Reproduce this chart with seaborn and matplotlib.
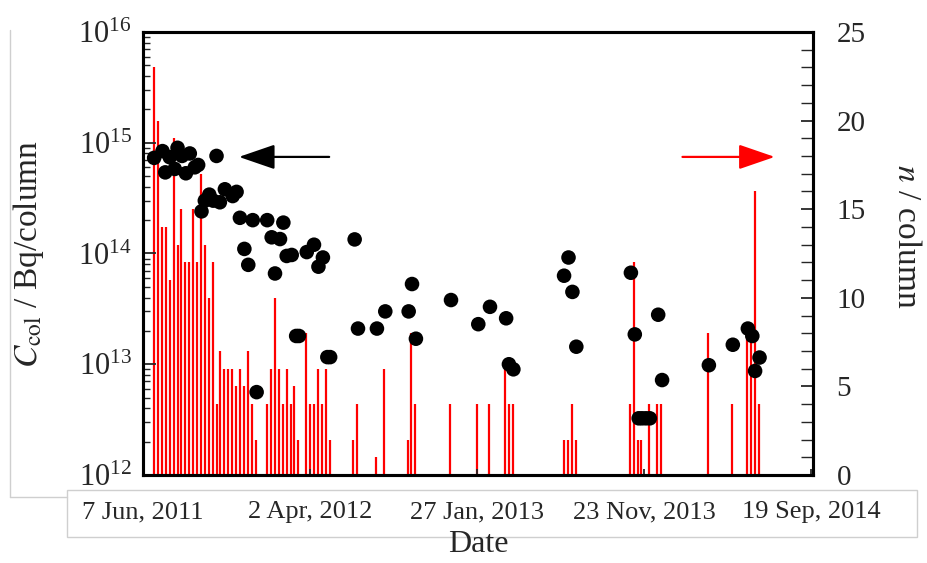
import numpy as np
import pandas as pd
import matplotlib
matplotlib.use("Agg")
import matplotlib.pyplot as plt
from matplotlib.ticker import LogLocator, MultipleLocator, NullFormatter
from matplotlib.lines import Line2D
from matplotlib.patches import Rectangle
import seaborn as sns

# all dates are stored as days since 7 Jun 2011
start = pd.Timestamp("2011-06-07")

# red bars: number of sampled columns (right axis)
bar_days = [20, 27, 34, 41, 48, 55, 62, 69, 76, 83, 90, 97, 104, 111, 118, 125, 132, 139, 146, 153, 160, 167, 174, 181, 188, 195, 202,
            223, 230, 237, 244, 251, 258, 265, 272, 279, 293, 300, 307, 314, 321, 328, 335,
            377, 384, 419, 433, 475, 482, 489, 552, 600, 622, 650, 657, 664,
            756, 763, 770, 777, 874, 881, 888, 895, 909, 923, 930,
            1015, 1057, 1085, 1092, 1099, 1106]
bar_n = [23, 20, 14, 14, 11, 19, 13, 15, 12, 12, 15, 12, 17, 13, 10, 12, 4, 7, 6, 6, 6, 5, 6, 5, 7, 4, 2,
         4, 6, 10, 6, 4, 6, 4, 5, 2, 8, 4, 4, 6, 4, 6, 2,
         2, 4, 1, 6, 2, 8, 4, 4, 4, 4, 6, 4, 4,
         2, 2, 4, 2, 4, 12, 2, 2, 4, 4, 4,
         8, 4, 8, 8, 16, 4]

# black dots: C_col in Bq/column (left axis, log)
dot_days = [20, 35, 40, 48, 57, 62, 70, 77, 84, 93, 99, 105, 111, 119, 126, 132, 138, 147, 161, 168,
            174, 182, 189, 197, 204, 223, 231, 237, 246, 252, 258, 267, 275, 280, 294, 307, 315, 323,
            331, 336, 380, 386, 420, 435, 477, 483, 490, 553, 602, 623, 652, 657, 665,
            756, 764, 771, 778, 876, 883, 890, 896, 903, 910, 925, 932,
            1016, 1059, 1086, 1094, 1099, 1107]
dot_vals = [7.3e14, 8.4e14, 5.4e14, 7.4e14, 5.8e14, 9.0e14, 7.6e14, 5.3e14, 8.0e14, 6.0e14, 6.3e14, 2.4e14, 3.0e14, 3.4e14, 3.0e14, 7.6e14, 2.9e14, 3.8e14, 3.3e14, 3.6e14,
            2.1e14, 1.1e14, 7.9e13, 2.0e14, 5.6e12, 2.0e14, 1.4e14, 6.6e13, 1.35e14, 1.9e14, 9.5e13, 9.7e13, 1.8e13, 1.8e13, 1.03e14, 1.2e14, 7.6e13, 9.2e13,
            1.16e13, 1.16e13, 1.34e14, 2.1e13, 2.1e13, 3.0e13, 3.0e13, 5.3e13, 1.7e13, 3.8e13, 2.3e13, 3.3e13, 2.6e13, 1.0e13, 9.0e12,
            6.3e13, 9.2e13, 4.5e13, 1.44e13, 6.7e13, 1.86e13, 3.25e12, 3.25e12, 3.25e12, 3.25e12, 2.8e13, 7.2e12,
            9.8e12, 1.5e13, 2.1e13, 1.8e13, 8.7e12, 1.15e13]

tick_days = [0, 300, 600, 900, 1200]
tick_labels = ["7 Jun, 2011", "2 Apr, 2012", "27 Jan, 2013", "23 Nov, 2013", "19 Sep, 2014"]

sns.set_style("ticks")
plt.rcParams["font.family"] = ["Liberation Serif", "DejaVu Serif"]
plt.rcParams["mathtext.fontset"] = "stix"

bar_dates = start + pd.to_timedelta(bar_days, unit="D")
dots = pd.DataFrame({"date": start + pd.to_timedelta(dot_days, unit="D"), "ccol": dot_vals})
tick_dates = start + pd.to_timedelta(tick_days, unit="D")

fig = plt.figure(figsize=(9.28, 5.63), dpi=100)
ax = fig.add_axes([0.1541, 0.1563, 0.722, 0.7869])
ax2 = ax.twinx()

# bars on the right axis, dots on top
ax2.vlines(bar_dates, 0, bar_n, colors="#ff0000", lw=1.6)
ax2.set_ylim(0, 25)
ax2.yaxis.set_major_locator(MultipleLocator(5))
ax2.yaxis.set_minor_locator(MultipleLocator(1))

sns.scatterplot(data=dots, x="date", y="ccol", ax=ax, s=110, color="black", edgecolor="none", zorder=3)
ax.set_yscale("log")
ax.set_ylim(1e12, 1e16)
ax.yaxis.set_major_locator(LogLocator(base=10, numticks=10))
ax.yaxis.set_minor_locator(LogLocator(base=10, subs=np.arange(2, 10), numticks=20))
ax.yaxis.set_minor_formatter(NullFormatter())
ax.set_zorder(ax2.get_zorder() + 1)
ax.patch.set_visible(False)

ax.set_xlim(start, start + pd.Timedelta(days=1203))
ax.set_xticks(tick_dates)
ax.set_xticklabels(tick_labels, fontsize=19)

ax.tick_params(axis="y", which="major", direction="in", length=9, width=1.3, labelsize=22, pad=8, right=False)
ax.tick_params(axis="y", which="minor", direction="in", length=5, width=1.0, right=False)
ax.tick_params(axis="x", which="both", direction="in", length=4, width=1.3, pad=19, top=False)
ax2.tick_params(axis="y", which="major", direction="in", length=9, width=1.3, labelsize=21, pad=17)
ax2.tick_params(axis="y", which="minor", direction="in", length=9, width=1.0)

for a in (ax, ax2):
    for sp in a.spines.values():
        sp.set_linewidth(2.2)
        sp.set_color("black")

ax.set_xlabel("Date", fontsize=23, labelpad=5)
ax.set_ylabel(r"$C_{\mathrm{col}}$ / Bq/column", fontsize=24)
ax.yaxis.set_label_coords(-0.145, 0.5)
ax2.set_ylabel(r"$n$ / column", fontsize=24, rotation=270, va="bottom")
ax2.yaxis.set_label_coords(1.117, 0.54)

# direction arrows
ax.annotate("", xy=(0.139, 0.718), xytext=(0.282, 0.718), xycoords="axes fraction",
            arrowprops=dict(arrowstyle="-|>,head_length=1.6,head_width=0.55", color="black", lw=1.6, mutation_scale=14))
ax.annotate("", xy=(0.947, 0.718), xytext=(0.801, 0.718), xycoords="axes fraction",
            arrowprops=dict(arrowstyle="-|>,head_length=1.6,head_width=0.55", color="#ff0000", lw=1.6, mutation_scale=14))

# light panel frames around the labels
W, H = 928.0, 563.0
grey = "#cfcfcf"
fig.add_artist(Line2D([10 / W, 10 / W], [1 - 30 / H, 1 - 497 / H], color=grey, lw=1, transform=fig.transFigure))
fig.add_artist(Line2D([10 / W, 67 / W], [1 - 497 / H, 1 - 497 / H], color=grey, lw=1, transform=fig.transFigure))
fig.add_artist(Rectangle((67 / W, 1 - 537 / H), (917 - 67) / W, (537 - 490) / H, fill=False,
                         edgecolor=grey, lw=1, transform=fig.transFigure))

fig.savefig("out.png", dpi=100)
